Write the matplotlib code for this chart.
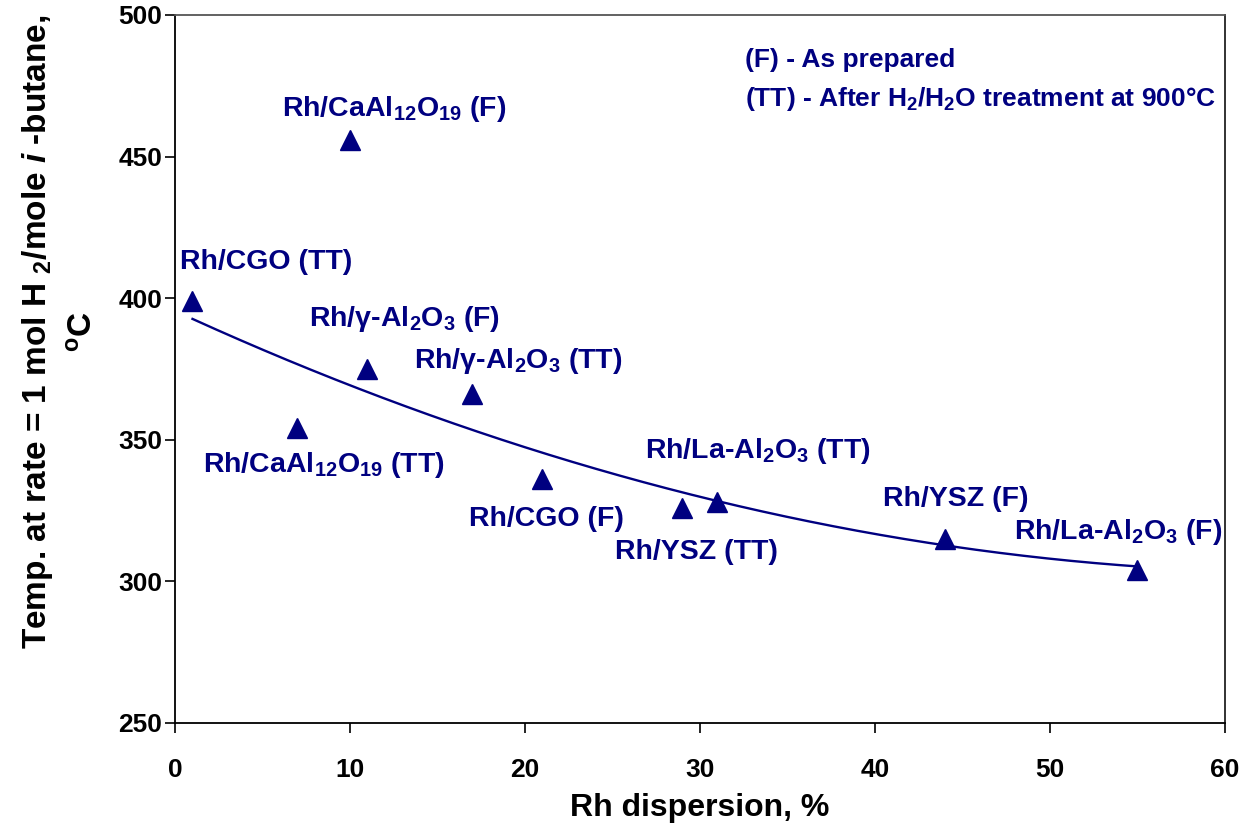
import numpy as np
import matplotlib
matplotlib.use("Agg")
import matplotlib.pyplot as plt

plt.rcParams['font.family'] = ['Liberation Sans', 'DejaVu Sans']
plt.rcParams['mathtext.fontset'] = 'custom'
plt.rcParams['mathtext.rm'] = 'Liberation Sans:bold'
plt.rcParams['mathtext.bf'] = 'Liberation Sans:bold'
plt.rcParams['mathtext.it'] = 'Liberation Sans:italic:bold'
plt.rcParams['mathtext.sf'] = 'Liberation Sans:bold'

# Data
dispersion = [1, 10, 7, 11, 17, 21, 29, 31, 44, 55]
temperature = [399, 456, 354, 375, 366, 336, 326, 328, 315, 304]
labels = [r"Rh/CGO (TT)", r"Rh/CaAl$_{12}$O$_{19}$ (F)", r"Rh/CaAl$_{12}$O$_{19}$ (TT)",
          r"Rh/γ-Al$_2$O$_3$ (F)", r"Rh/γ-Al$_2$O$_3$ (TT)", r"Rh/CGO (F)",
          r"Rh/YSZ (TT)", r"Rh/La-Al$_2$O$_3$ (TT)", r"Rh/YSZ (F)", r"Rh/La-Al$_2$O$_3$ (F)"]
label_x = [5.2, 12.5, 8.5, 13.1, 19.6, 21.2, 29.8, 33.3, 44.6, 53.9]
label_y = [412.8, 466.8, 341.1, 392.7, 377.8, 322.0, 310.4, 346.0, 329.1, 317.4]
# polynomial trend line coefficients (order 2)
trend_coef = [0.0219, -2.845, 395.5]
trend_range = [1, 55]
xticks = [0, 10, 20, 30, 40, 50, 60]
yticks = [250, 300, 350, 400, 450, 500]

navy = '#000080'

fig = plt.figure(figsize=(12.42, 8.27), dpi=100)
ax = fig.add_axes([0.1409, 0.1258, 0.8454, 0.8561])

xs = np.linspace(trend_range[0], trend_range[1], 200)
ax.plot(xs, np.polyval(trend_coef, xs), color=navy, lw=1.7, zorder=2)

ax.plot(dispersion, temperature, linestyle='none', marker='^', ms=14,
        color=navy, zorder=3)

for lx, ly, t in zip(label_x, label_y, labels):
    ax.text(lx, ly, t, ha='center', va='center', fontsize=20.5,
            fontweight='bold', color=navy)

ax.text(32.6, 484.1, "(F) - As prepared", ha='left', va='center',
        fontsize=19, fontweight='bold', color=navy)
ax.text(32.6, 470.3, r"(TT) - After H$_2$/H$_2$O treatment at 900°C",
        ha='left', va='center', fontsize=19, fontweight='bold', color=navy)

ax.set_xlim(0, 60)
ax.set_ylim(250, 500)
ax.set_xticks(xticks)
ax.set_yticks(yticks)
ax.tick_params(direction='out', length=7, width=1.2, labelsize=19)
ax.tick_params(axis='x', pad=18)
ax.tick_params(axis='y', pad=2)
for lab in ax.get_xticklabels() + ax.get_yticklabels():
    lab.set_fontweight('bold')
for s in ax.spines.values():
    s.set_linewidth(1.3)
ax.spines['top'].set_color('#555555')
ax.spines['right'].set_color('#222222')

ax.set_xlabel("Rh dispersion, %", fontsize=23, fontweight='bold', labelpad=8)
ax.set_ylabel("Temp. at rate = 1 mol H $_2$/mole $i$ -butane,\n$^{\\mathrm{o}}$C",
              fontsize=24, fontweight='bold', linespacing=1.55)
ax.yaxis.set_label_coords(-0.072, 0.553)

fig.savefig("out.png", dpi=100)
